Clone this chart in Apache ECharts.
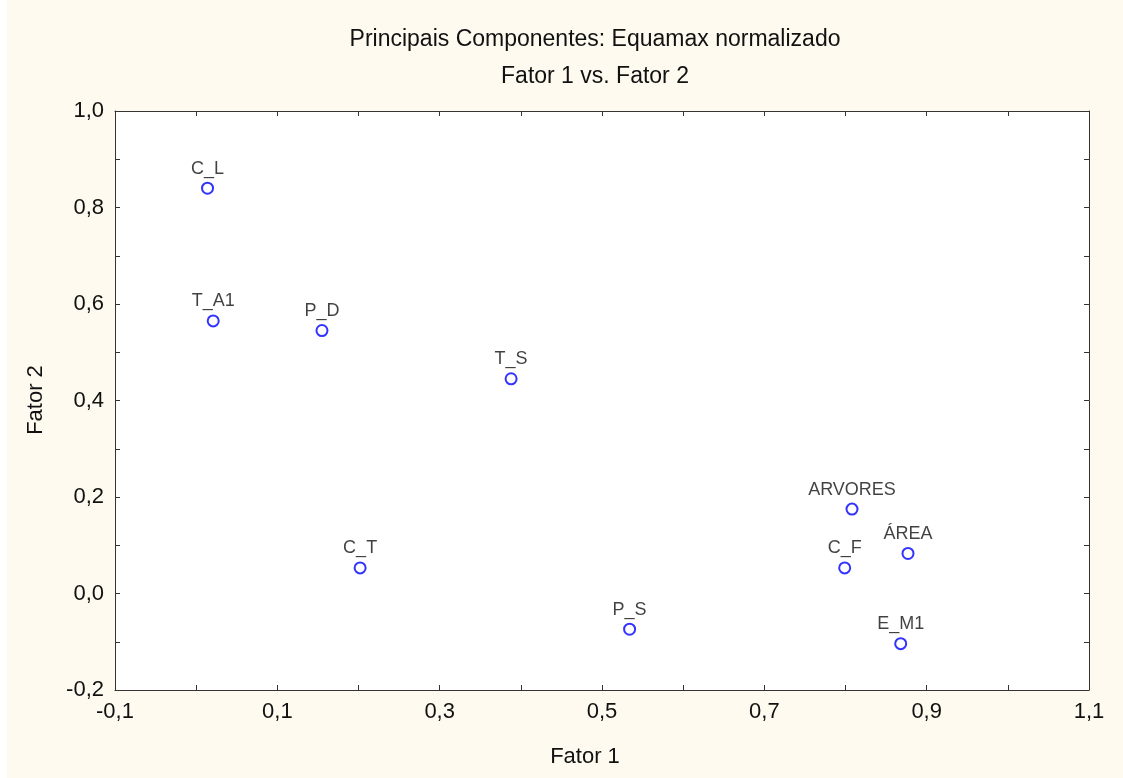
<!DOCTYPE html>
<html>
<head>
<meta charset="utf-8">
<script src="https://cdn.jsdelivr.net/npm/echarts@6/dist/echarts.min.js"></script>
<style>
  html, body { margin: 0; padding: 0; background: #fff; }
  #chart { position: absolute; left: 7px; top: 0; width: 1116px; height: 778px; background: #fefaf0; }
</style>
</head>
<body>
<div id="chart"></div>
<script>
// rótulos das variáveis
const variaveis = ["C_L", "T_A1", "P_D", "T_S", "C_T", "P_S", "ARVORES", "ÁREA", "C_F", "E_M1"];
// cargas no Fator 1 (eixo x)
const fator1 = [0.014, 0.021, 0.155, 0.388, 0.202, 0.534, 0.808, 0.877, 0.799, 0.868];
// cargas no Fator 2 (eixo y)
const fator2 = [0.840, 0.565, 0.545, 0.445, 0.053, -0.074, 0.175, 0.083, 0.053, -0.104];

const xMin = -0.1, xMax = 1.1;
const yMin = -0.2, yMax = 1.0;

const chart = echarts.init(document.getElementById("chart"));

// virgula decimal
function fmt(v) {
  return v.toFixed(1).replace(".", ",");
}

const fonte = "Liberation Sans, Arial";
const lineStyle = { color: "#333", width: 1 };

function baseAxis(min, max, position, showLabel, showOdd) {
  return {
    type: "value",
    min: min,
    max: max,
    interval: 0.1,
    position: position,
    axisLine: { show: true, onZero: false, lineStyle: lineStyle },
    axisTick: { show: true, inside: true, length: 5, lineStyle: lineStyle },
    splitLine: { show: false },
    axisLabel: {
      show: showLabel,
      margin: 11,
      fontFamily: fonte,
      fontSize: 22,
      color: "#111",
      formatter: function (v) {
        const k = Math.round(v * 10);
        const odd = Math.abs(k) % 2 === 1;
        return odd === showOdd ? fmt(k / 10) : "";
      },
    },
  };
}

const option = {
  animation: false,
  grid: { left: 108, right: 34, top: 111, bottom: 88, show: true, backgroundColor: "#fff", borderWidth: 0 },
  title: [
    {
      text: "Principais Componentes: Equamax normalizado",
      left: 583,
      top: 23,
      textAlign: "center",
      textStyle: { fontFamily: fonte, fontSize: 23, fontWeight: "normal", color: "#111" },
    },
    {
      text: "Fator 1 vs. Fator 2",
      left: 583,
      top: 60,
      textAlign: "center",
      textStyle: { fontFamily: fonte, fontSize: 23, fontWeight: "normal", color: "#111" },
    },
  ],
  xAxis: [baseAxis(xMin, xMax, "bottom", true, true), baseAxis(xMin, xMax, "top", false, true)],
  yAxis: [baseAxis(yMin, yMax, "left", true, false), baseAxis(yMin, yMax, "right", false, false)],
  graphic: [
    {
      type: "text",
      x: 578,
      y: 757,
      style: { text: "Fator 1", font: "22px 'Liberation Sans', Arial", fill: "#111", align: "center", verticalAlign: "middle" },
    },
    {
      type: "text",
      x: 29,
      y: 400,
      rotation: Math.PI / 2,
      style: { text: "Fator 2", font: "22px 'Liberation Sans', Arial", fill: "#111", align: "center", verticalAlign: "middle" },
    },
  ],
  series: [
    {
      type: "scatter",
      symbol: "emptyCircle",
      symbolSize: 11,
      itemStyle: { color: "#0000ff", borderColor: "#0000ff", borderWidth: 2 },
      label: {
        show: true,
        position: "top",
        distance: 4,
        fontFamily: fonte,
        fontSize: 18,
        color: "#111",
        formatter: function (p) {
          return p.data[2];
        },
      },
      data: variaveis.map((v, i) => [fator1[i], fator2[i], v]),
    },
  ],
};
chart.setOption(option);
</script>
</body>
</html>
